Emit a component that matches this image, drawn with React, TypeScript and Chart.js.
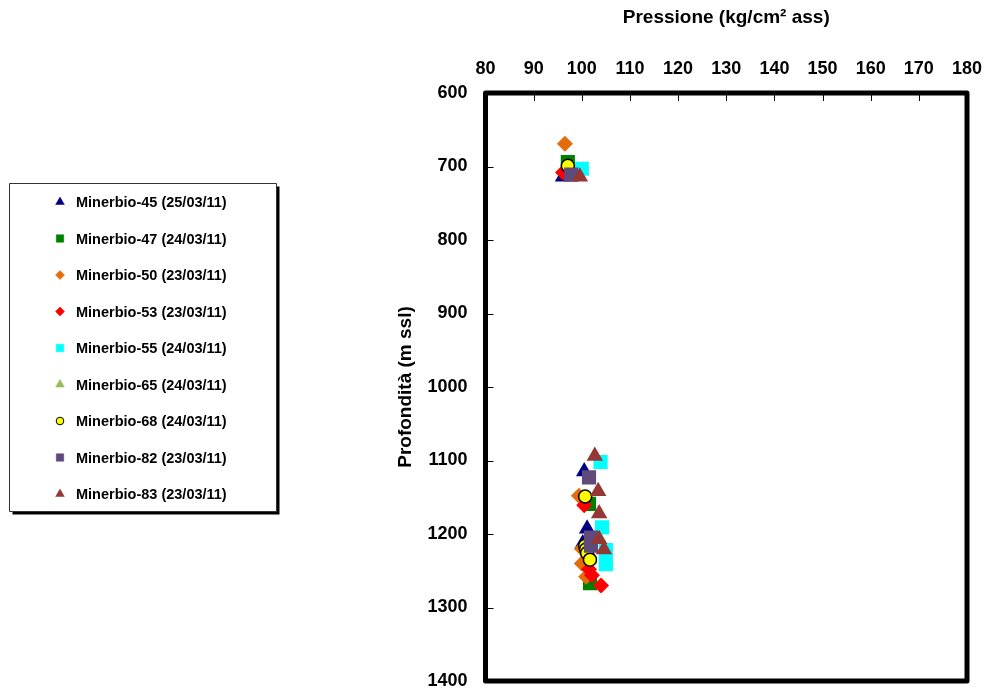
import React, { useEffect, useRef } from "react";
import { Chart, registerables } from "chart.js";

Chart.register(...registerables);

const seriesNames = [
  "Minerbio-45 (25/03/11)",
  "Minerbio-47 (24/03/11)",
  "Minerbio-50 (23/03/11)",
  "Minerbio-53 (23/03/11)",
  "Minerbio-55 (24/03/11)",
  "Minerbio-65 (24/03/11)",
  "Minerbio-68 (24/03/11)",
  "Minerbio-82 (23/03/11)",
  "Minerbio-83 (23/03/11)",
];

const m45P = [96.1, 100.5, 101.1, 100.2];
const m45D = [714, 1115, 1193, 1213];
const m47P = [97.1, 101.5, 101.7];
const m47D = [694, 1159, 1267];
const m50P = [96.5, 99.4, 100.0, 100.0, 100.9];
const m50D = [669, 1148, 1220, 1240, 1258];
const m53P = [96.1, 100.5, 101.5, 102.1, 104.0];
const m53D = [708, 1161, 1248, 1256, 1270];
const m55P = [100.0, 103.9, 104.2, 105.0, 105.0];
const m55D = [703, 1102, 1191, 1222, 1241];
const m65P = [103.6];
const m65D = [1207];
const m68P = [97.1, 100.7, 100.7, 100.9, 101.1, 101.7];
const m68D = [699, 1149, 1216, 1221, 1226, 1235];
const m82P = [97.8, 101.5, 101.9, 101.9];
const m82D = [711, 1123, 1205, 1216];
const m83P = [99.6, 102.7, 103.4, 103.6, 103.6, 104.6];
const m83D = [714, 1094, 1142, 1172, 1207, 1221];

const xTicks = [80, 90, 100, 110, 120, 130, 140, 150, 160, 170, 180];
const yTicks = [600, 700, 800, 900, 1000, 1100, 1200, 1300, 1400];

const FONT = 'Arial, "Liberation Sans", sans-serif';

type Style = { shape: string; color: string; border: string; r: number; lr: number };
const styles: Style[] = [
  { shape: "triangle", color: "#000080", border: "#000080", r: 9.5, lr: 5 },
  { shape: "rect", color: "#008000", border: "#008000", r: 10, lr: 5.3 },
  { shape: "rectRot", color: "#E46C0A", border: "#E46C0A", r: 8, lr: 4.5 },
  { shape: "rectRot", color: "#FF0000", border: "#FF0000", r: 8, lr: 4.5 },
  { shape: "rect", color: "#00FFFF", border: "#00FFFF", r: 10, lr: 5.3 },
  { shape: "triangle", color: "#9BBB59", border: "#9BBB59", r: 9.5, lr: 5 },
  { shape: "circle", color: "#FFFF00", border: "#000000", r: 6.5, lr: 3.8 },
  { shape: "rect", color: "#604A7B", border: "#604A7B", r: 10, lr: 5.3 },
  { shape: "triangle", color: "#953735", border: "#953735", r: 9.5, lr: 5 },
];

const pressures = [m45P, m47P, m50P, m53P, m55P, m65P, m68P, m82P, m83P];
const depths = [m45D, m47D, m50D, m53D, m55D, m65D, m68D, m82D, m83D];

function drawShape(ctx: CanvasRenderingContext2D, s: Style, x: number, y: number, r: number) {
  ctx.save();
  ctx.fillStyle = s.color;
  ctx.strokeStyle = s.border;
  ctx.lineWidth = s.shape === "circle" ? 1 : 0.5;
  ctx.beginPath();
  if (s.shape === "triangle") {
    const h = r * 1.5;
    const w = r * Math.sqrt(3);
    ctx.moveTo(x, y - r);
    ctx.lineTo(x + w / 2, y - r + h);
    ctx.lineTo(x - w / 2, y - r + h);
    ctx.closePath();
  } else if (s.shape === "rect") {
    const a = r * Math.SQRT1_2;
    ctx.rect(x - a, y - a, 2 * a, 2 * a);
  } else if (s.shape === "rectRot") {
    ctx.moveTo(x, y - r);
    ctx.lineTo(x + r, y);
    ctx.lineTo(x, y + r);
    ctx.lineTo(x - r, y);
    ctx.closePath();
  } else {
    ctx.arc(x, y, r, 0, Math.PI * 2);
  }
  ctx.fill();
  ctx.stroke();
  ctx.restore();
}

const framePlugin = {
  id: "frame",
  afterDraw(chart: any) {
    const ctx: CanvasRenderingContext2D = chart.ctx;
    const { left, right, top, bottom } = chart.chartArea;
    const xs = chart.scales.x;
    const ys = chart.scales.y;
    ctx.save();
    // inward tick marks
    ctx.strokeStyle = "#000";
    ctx.lineWidth = 1;
    ctx.beginPath();
    xTicks.forEach((v) => {
      if (v === xTicks[0] || v === xTicks[xTicks.length - 1]) return;
      const px = Math.round(xs.getPixelForValue(v)) + 0.5;
      ctx.moveTo(px, top);
      ctx.lineTo(px, top + 8);
    });
    yTicks.forEach((v) => {
      if (v === yTicks[0] || v === yTicks[yTicks.length - 1]) return;
      const py = Math.round(ys.getPixelForValue(v)) + 0.5;
      ctx.moveTo(left, py);
      ctx.lineTo(left + 8, py);
    });
    ctx.stroke();
    // thick frame
    ctx.lineWidth = 5;
    ctx.lineJoin = "round";
    ctx.strokeRect(left, top, right - left, bottom - top);

    // legend box
    const bx = 9.5, by = 183.5, bw = 267, bh = 328;
    ctx.fillStyle = "#000";
    ctx.fillRect(bx + 3, by + 3, bw, bh);
    ctx.fillStyle = "#fff";
    ctx.fillRect(bx, by, bw, bh);
    ctx.strokeStyle = "#333";
    ctx.lineWidth = 1;
    ctx.strokeRect(bx, by, bw, bh);
    ctx.font = `bold 14.5px ${FONT}`;
    ctx.textBaseline = "middle";
    ctx.textAlign = "left";
    seriesNames.forEach((name, i) => {
      const y = 202 + i * 36.5;
      drawShape(ctx, styles[i], 60, y, styles[i].lr);
      ctx.fillStyle = "#000";
      ctx.fillText(name, 76, y + 1);
    });
    ctx.restore();
  },
};

export default function App() {
  const ref = useRef<HTMLCanvasElement | null>(null);
  useEffect(() => {
    if (!ref.current) return;
    const datasets = seriesNames.map((name, i) => ({
      label: name,
      data: pressures[i].map((p, j) => ({ x: p, y: depths[i][j] })),
      order: seriesNames.length - 1 - i,
      pointStyle: styles[i].shape,
      pointRadius: styles[i].r,
      pointHoverRadius: styles[i].r,
      backgroundColor: styles[i].color,
      borderColor: styles[i].border,
      pointBorderWidth: styles[i].shape === "circle" ? 1.5 : 0,
      showLine: false,
    }));
    const chart = new Chart(ref.current, {
      type: "scatter",
      data: { datasets },
      plugins: [framePlugin],
      options: {
        animation: false,
        responsive: false,
        devicePixelRatio: 1,
        layout: { padding: { left: 0, top: 0, right: 26, bottom: 8 } },
        plugins: { legend: { display: false }, tooltip: { enabled: false } },
        scales: {
          x: {
            type: "linear",
            position: "top",
            min: 80,
            max: 180,
            afterBuildTicks: (scale: any) => {
              scale.ticks = xTicks.map((v) => ({ value: v }));
            },
            afterFit: (scale: any) => {
              scale.height = 93;
              scale.paddingLeft = 0;
              scale.paddingRight = 0;
            },
            grid: { display: false, drawTicks: false },
            border: { display: false },
            ticks: {
              padding: 13,
              color: "#000",
              font: { family: FONT, size: 18, weight: "bold" },
              callback: (v: any) => String(v),
            },
            title: {
              display: true,
              text: "Pressione (kg/cm² ass)",
              color: "#000",
              font: { family: FONT, size: 19, weight: "bold" },
              padding: { top: 6, bottom: 0 },
            },
          },
          y: {
            type: "linear",
            reverse: true,
            min: 600,
            max: 1400,
            afterBuildTicks: (scale: any) => {
              scale.ticks = yTicks.map((v) => ({ value: v }));
            },
            afterFit: (scale: any) => {
              scale.width = 485.5;
              scale.paddingTop = 0;
              scale.paddingBottom = 0;
            },
            grid: { display: false, drawTicks: false },
            border: { display: false },
            ticks: {
              padding: 18,
              color: "#000",
              font: { family: FONT, size: 18, weight: "bold" },
              callback: (v: any) => String(v),
            },
            title: {
              display: true,
              text: "Profondità (m ssl)",
              color: "#000",
              font: { family: FONT, size: 19, weight: "bold" },
              padding: { top: 394, bottom: 0 },
            },
          },
        },
      } as any,
    });
    return () => chart.destroy();
  }, []);
  return (
    <canvas
      ref={ref}
      width={993}
      height={691}
      style={{ position: "absolute", left: 0, top: 0, width: 993, height: 691 }}
    />
  );
}
